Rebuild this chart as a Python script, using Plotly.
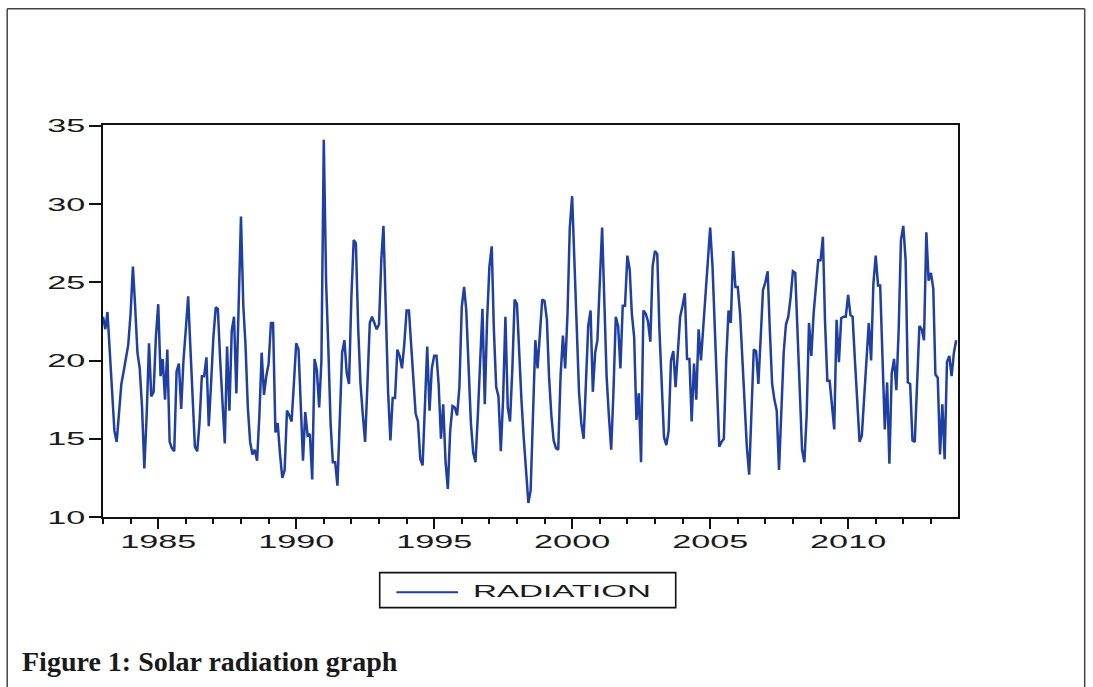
import pandas as pd
import plotly.graph_objects as go

# ---- data: monthly solar radiation, Jan 1983 - Dec 2013 ----
rad_1983 = [22.8, 22.0, 23.1, 20.5, 17.5, 15.5, 14.8, 16.5, 18.5, 19.3, 20.1, 21.0]
rad_1984 = [23.0, 26.0, 23.5, 20.5, 19.5, 17.0, 13.1, 16.5, 21.1, 17.7, 18.0, 21.5]
rad_1985 = [23.6, 19.0, 20.1, 17.5, 20.7, 14.8, 14.4, 14.2, 19.3, 19.8, 16.9, 20.0]
rad_1986 = [22.0, 24.1, 21.0, 18.0, 14.5, 14.2, 16.0, 19.0, 19.0, 20.2, 15.8, 18.5]
rad_1987 = [21.5, 23.4, 23.3, 20.0, 17.0, 14.7, 20.9, 16.8, 21.9, 22.8, 17.9, 23.5]
rad_1988 = [29.2, 23.5, 21.0, 17.0, 14.8, 14.0, 14.3, 13.6, 16.5, 20.5, 17.8, 19.0]
rad_1989 = [19.8, 22.4, 22.4, 15.4, 16.0, 14.0, 12.5, 13.0, 16.8, 16.5, 16.1, 18.5]
rad_1990 = [21.1, 20.7, 17.0, 13.6, 16.7, 15.2, 15.3, 12.4, 20.1, 19.4, 17.0, 20.0]
rad_1991 = [34.1, 25.0, 21.0, 16.0, 13.5, 13.5, 12.0, 17.0, 20.5, 21.3, 19.2, 18.5]
rad_1992 = [24.0, 27.7, 27.5, 22.0, 18.5, 16.5, 14.8, 18.5, 22.4, 22.8, 22.4, 22.0]
rad_1993 = [22.3, 26.5, 28.6, 23.0, 18.0, 14.9, 17.6, 17.6, 20.7, 20.3, 19.5, 21.0]
rad_1994 = [23.2, 23.2, 21.0, 19.0, 16.6, 16.1, 13.7, 13.3, 17.0, 20.9, 16.8, 19.5]
rad_1995 = [20.3, 20.3, 18.5, 15.0, 17.2, 13.5, 11.8, 15.5, 17.1, 17.0, 16.5, 18.3]
rad_1996 = [23.4, 24.7, 23.2, 20.0, 16.0, 14.1, 13.5, 16.5, 20.0, 23.3, 17.2, 22.5]
rad_1997 = [26.0, 27.3, 22.0, 18.3, 17.7, 14.2, 17.5, 22.8, 17.0, 16.1, 19.5, 23.9]
rad_1998 = [23.6, 20.0, 17.5, 15.0, 13.0, 10.9, 11.7, 16.0, 21.3, 19.5, 21.5, 23.9]
rad_1999 = [23.8, 22.6, 19.0, 16.5, 14.9, 14.4, 14.3, 19.0, 21.6, 19.5, 23.0, 28.5]
rad_2000 = [30.5, 26.2, 21.0, 18.0, 16.0, 15.0, 18.5, 22.2, 23.2, 18.0, 20.5, 21.3]
rad_2001 = [25.0, 28.5, 24.0, 19.0, 16.5, 14.3, 18.0, 22.8, 22.2, 19.5, 23.5, 23.5]
rad_2002 = [26.7, 25.8, 23.0, 21.5, 16.2, 17.9, 13.5, 23.2, 23.0, 22.5, 21.2, 26.0]
rad_2003 = [27.0, 26.8, 22.0, 18.0, 15.1, 14.6, 15.5, 20.0, 20.6, 18.3, 21.0, 22.8]
rad_2004 = [23.5, 24.3, 20.1, 20.1, 16.1, 19.8, 17.5, 22.0, 20.0, 22.0, 24.5, 26.5]
rad_2005 = [28.5, 26.0, 22.0, 18.0, 14.5, 14.8, 15.0, 20.0, 23.2, 22.4, 27.0, 24.7]
rad_2006 = [24.7, 23.0, 20.0, 17.0, 14.5, 12.7, 16.5, 20.7, 20.6, 18.5, 21.5, 24.5]
rad_2007 = [25.0, 25.7, 22.0, 18.5, 17.5, 16.8, 13.0, 17.0, 20.5, 22.3, 22.8, 24.0]
rad_2008 = [25.7, 25.6, 22.0, 17.5, 14.3, 13.5, 16.5, 22.4, 20.3, 23.0, 24.5, 26.4]
rad_2009 = [26.4, 27.9, 22.5, 18.7, 18.7, 17.0, 15.6, 22.6, 19.9, 22.7, 22.8, 22.8]
rad_2010 = [24.2, 22.9, 22.8, 20.0, 17.0, 14.8, 15.2, 17.5, 20.5, 22.4, 20.0, 24.9]
rad_2011 = [26.7, 24.8, 24.8, 20.0, 15.6, 18.6, 13.4, 19.2, 20.1, 18.1, 22.0, 27.7]
rad_2012 = [28.6, 26.4, 18.6, 18.5, 14.9, 14.8, 18.5, 22.2, 22.0, 21.3, 28.2, 25.1]
rad_2013 = [25.6, 24.6, 19.1, 18.9, 14.0, 17.2, 13.7, 19.9, 20.3, 19.0, 20.5, 21.3]

y_ticks = [10, 15, 20, 25, 30, 35]
series_name = "RADIATION"
caption = "Figure 1: Solar radiation graph"

radiation = (rad_1983 + rad_1984 + rad_1985 + rad_1986 + rad_1987 + rad_1988 + rad_1989
             + rad_1990 + rad_1991 + rad_1992 + rad_1993 + rad_1994 + rad_1995 + rad_1996
             + rad_1997 + rad_1998 + rad_1999 + rad_2000 + rad_2001 + rad_2002 + rad_2003
             + rad_2004 + rad_2005 + rad_2006 + rad_2007 + rad_2008 + rad_2009 + rad_2010
             + rad_2011 + rad_2012 + rad_2013)
months = pd.date_range("1983-01-01", periods=len(radiation), freq="MS")

# ---- layout geometry (pixels) ----
W, H = 1093, 687
L, R, T, B = 103.3, 958.3, 124.5, 517.0
LINE_COLOR = "#1f3fa3"
AX = "#111111"


def fx(px):
    return (px - L) / (R - L)


def fy(py):
    return (B - py) / (B - T)


fig = go.Figure(
    go.Scatter(x=months, y=radiation, mode="lines", name=series_name,
               line=dict(color=LINE_COLOR, width=2.5), showlegend=False)
)

tick_font = dict(family="Liberation Sans, Arial, sans-serif", size=19, color="#1a1a1a")

fig.update_layout(
    width=W, height=H,
    margin=dict(l=L, r=W - R, t=T, b=H - B, pad=0),
    paper_bgcolor="white", plot_bgcolor="white",
    showlegend=False,
    xaxis=dict(
        type="date", range=["1983-01-01", "2013-12-25"],
        showgrid=False, zeroline=False,
        showline=True, linecolor=AX, linewidth=1.6, mirror=True,
        ticks="outside", ticklen=10, tickwidth=1.5, tickcolor=AX,
        tick0="1985-01-01", dtick="M60", tickformat="%Y",
        tickfont=tick_font, ticklabelstandoff=0,
        minor=dict(dtick="M12", ticks="outside", ticklen=5, tickwidth=1.5,
                   tickcolor=AX, showgrid=False),
    ),
    yaxis=dict(
        range=[10, 35.05], tickmode="array", tickvals=y_ticks,
        showgrid=False, zeroline=False,
        showline=True, linecolor=AX, linewidth=1.6, mirror=True,
        ticks="outside", ticklen=12, tickwidth=1.5, tickcolor=AX,
        tickfont=tick_font, ticklabelstandoff=0,
    ),
)

shapes = [
    # outer page border (left, top, right)
    dict(type="line", xref="paper", yref="paper", x0=fx(7.5), x1=fx(7.5), y0=fy(8), y1=fy(690),
         line=dict(color="#444444", width=1.5)),
    dict(type="line", xref="paper", yref="paper", x0=fx(7.5), x1=fx(1085), y0=fy(8), y1=fy(8),
         line=dict(color="#444444", width=1.5)),
    dict(type="line", xref="paper", yref="paper", x0=fx(1085), x1=fx(1085), y0=fy(8), y1=fy(690),
         line=dict(color="#444444", width=1.5)),
    # legend box and sample line
    dict(type="rect", xref="paper", yref="paper", x0=fx(380), x1=fx(676), y0=fy(607.7), y1=fy(572.7),
         line=dict(color="#111111", width=1.6), fillcolor="rgba(0,0,0,0)"),
    dict(type="line", xref="paper", yref="paper", x0=fx(396.7), x1=fx(458.3), y0=fy(592.3), y1=fy(592.3),
         line=dict(color=LINE_COLOR, width=2)),
]
fig.update_layout(shapes=shapes)

fig.add_annotation(xref="paper", yref="paper", x=fx(471), y=fy(591.5), xanchor="left", yanchor="middle",
                   text=series_name, showarrow=False,
                   font=dict(family="Liberation Sans, Arial, sans-serif", size=17, color="#1a1a1a"))
fig.add_annotation(xref="paper", yref="paper", x=fx(20), y=fy(662), xanchor="left", yanchor="middle",
                   text="<b>" + caption + "</b>", showarrow=False,
                   font=dict(family="Liberation Serif, Times New Roman, serif", size=28, color="#1a1a1a"))

# Page has no body margin; the reference text is horizontally stretched, mimicked with SVG
# textLength (the text itself stays real text).
post = """
document.body.style.margin = '0';
document.body.style.padding = '0';
var gd = document.querySelector('.plotly-graph-div');
function st(el, f){ var w = el.getComputedTextLength(); if (w > 0){
  el.setAttribute('textLength', (w*f).toFixed(2)); el.setAttribute('lengthAdjust','spacingAndGlyphs'); } return w; }
gd.querySelectorAll('g.xtick text').forEach(function(t){
  st(t, 1.8);
  var y = parseFloat(t.getAttribute('y') || '0');
  t.setAttribute('y', (y - 4).toFixed(2));
});
gd.querySelectorAll('g.ytick text').forEach(function(t){ st(t, 1.8); });
gd.querySelectorAll('text.annotation-text').forEach(function(t){
  if (t.textContent === 'RADIATION') {
    var w = t.getComputedTextLength();
    var cx = parseFloat(t.getAttribute('x'));
    st(t, 1.95);
    t.setAttribute('text-anchor', 'start');
    t.style.textAnchor = 'start';
    t.setAttribute('x', (cx - w/2).toFixed(2));
  }
});
"""

fig.write_html("out.html", config={"responsive": False, "displayModeBar": False}, post_script=post)
